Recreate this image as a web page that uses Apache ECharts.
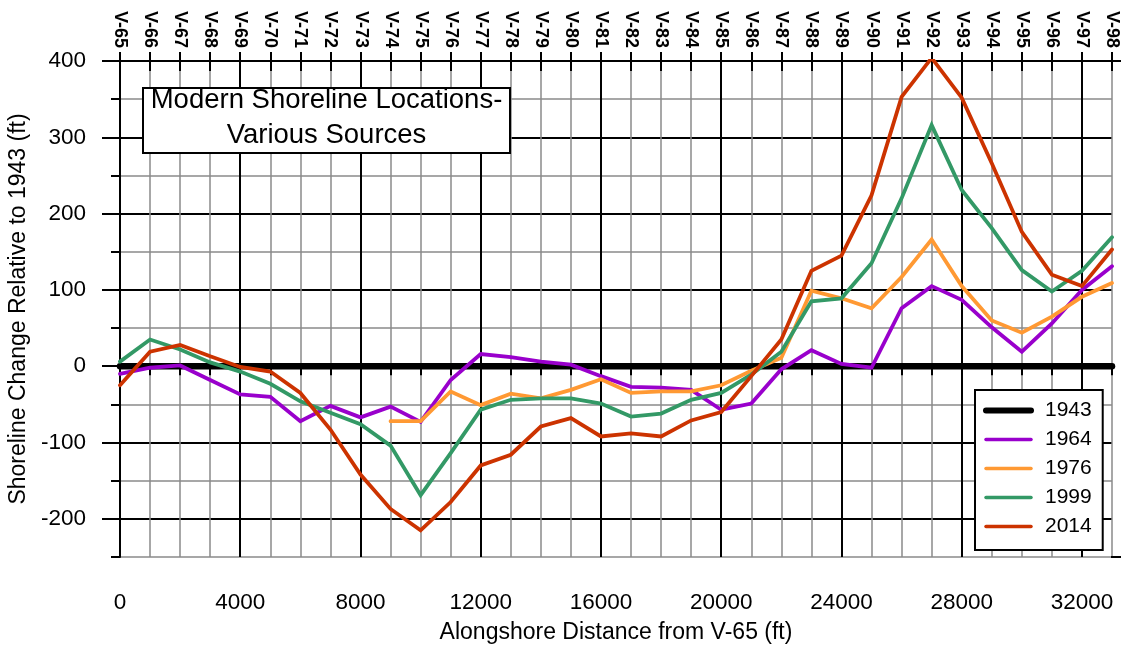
<!DOCTYPE html>
<html>
<head>
<meta charset="utf-8">
<script src="https://cdn.jsdelivr.net/npm/echarts@6/dist/echarts.min.js"></script>
<style>
  html, body { margin: 0; padding: 0; background: #fff; }
  #chart { width: 1121px; height: 647px; }
</style>
</head>
<body>
<div id="chart"></div>
<script>
// Survey stations along the shore and their alongshore distance from V-65 (ft)
const stations = ['V-65','V-66','V-67','V-68','V-69','V-70','V-71','V-72','V-73','V-74','V-75','V-76',
  'V-77','V-78','V-79','V-80','V-81','V-82','V-83','V-84','V-85','V-86','V-87','V-88','V-89','V-90',
  'V-91','V-92','V-93','V-94','V-95','V-96','V-97','V-98'];
const distance = [0,1000,2000,3000,4000,5000,6000,7000,8000,9000,10000,11000,12000,13000,14000,15000,
  16000,17000,18000,19000,20000,21000,22000,23000,24000,25000,26000,27000,28000,29000,30000,31000,32000,33000];

// Shoreline change relative to 1943 (ft)
const change1943 = [0,0,0,0,0,0,0,0,0,0,0,0,0,0,0,0,0,0,0,0,0,0,0,0,0,0,0,0,0,0,0,0,0,0];
const change1964 = [-10,-2,1,-18,-37,-40,-72,-52,-67,-53,-73,-18,16,12,6,2,-13,-27,-28,-31,-57,-49,-4,21,3,-2,76,105,87,51,19,56,100,131];
const change1976 = [null,null,null,null,null,null,null,null,null,-72,-72,-33,-51,-36,-42,-31,-17,-35,-33,-33,-25,-6,11,99,89,76,117,166,105,60,44,65,91,109];
const change1999 = [6,35,22,5,-7,-23,-46,-61,-76,-104,-169,-114,-57,-44,-42,-42,-49,-66,-62,-44,-35,-11,19,85,89,135,220,316,231,181,126,98,125,169];
const change2014 = [-25,19,28,13,-1,-7,-35,-83,-142,-187,-215,-178,-130,-116,-79,-68,-92,-88,-92,-71,-60,-13,35,125,145,224,353,404,352,266,176,120,105,153];

// Labelled tick positions
const xMajorTicks = [0,4000,8000,12000,16000,20000,24000,28000,32000];
const yMajorTicks = [-200,-100,0,100,200,300,400];

const FONT = '"Liberation Sans", Arial, Helvetica, sans-serif';

const pairs = vals => distance.map((d, i) => [d, vals[i]]);

const seriesDefs = [
  { name: '1943', values: change1943, color: '#000000', width: 6.5, legendWidth: 6, z: 2 },
  { name: '1964', values: change1964, color: '#9900CC', width: 3.8, legendWidth: 3.5, z: 3 },
  { name: '1976', values: change1976, color: '#FF9933', width: 3.8, legendWidth: 3.5, z: 3 },
  { name: '1999', values: change1999, color: '#339966', width: 3.8, legendWidth: 3.5, z: 3 },
  { name: '2014', values: change2014, color: '#CC3300', width: 3.8, legendWidth: 3.5, z: 3 }
];

const chart = echarts.init(document.getElementById('chart'), null, { renderer: 'canvas' });

const option = {
  animation: false,
  backgroundColor: '#fff',
  textStyle: { fontFamily: FONT, color: '#000' },
  grid: { left: 120, right: 9, top: 61, bottom: 90, containLabel: false, outerBoundsMode: 'none' },
  xAxis: [
    { // minor grid every 1000 ft
      type: 'value', min: 0, max: 33000, interval: 1000, position: 'bottom',
      axisLine: { show: true, lineStyle: { color: '#000', width: 2 } },
      axisTick: { show: true, length: 9, lineStyle: { color: '#000', width: 2 } },
      axisLabel: { show: false },
      splitLine: { show: true, lineStyle: { color: '#8a8a8a', width: 1.5 } }
    },
    { // major grid and labels every 4000 ft
      type: 'value', min: 0, max: 33000, interval: 1000, position: 'bottom',
      name: 'Alongshore Distance from V-65 (ft)', nameLocation: 'middle', nameGap: 64,
      nameTextStyle: { fontFamily: FONT, fontSize: 23, color: '#000' },
      axisLine: { show: false },
      axisTick: { show: true, length: 18, customValues: xMajorTicks, lineStyle: { color: '#000', width: 2 } },
      axisLabel: { show: true, customValues: xMajorTicks, margin: 34, fontFamily: FONT, fontSize: 22.5,
                   color: '#000', formatter: v => String(v) },
      splitLine: { show: true, lineStyle: { color: '#000', width: 2 } }
    },
    { // station names along the top
      type: 'value', min: 0, max: 33000, interval: 1000, position: 'top',
      axisLine: { show: true, lineStyle: { color: '#000', width: 2 } },
      axisTick: { show: true, length: 9, lineStyle: { color: '#000', width: 2 } },
      axisLabel: {
        show: true, rotate: 90, margin: 13, fontFamily: FONT, fontSize: 18, fontWeight: 'bold', color: '#000',
        formatter: v => stations[Math.round(v / 1000)] || ''
      },
      splitLine: { show: false }
    },
    { // inward half of the top ticks
      type: 'value', min: 0, max: 33000, interval: 1000, position: 'top',
      axisLine: { show: false },
      axisTick: { show: true, inside: true, length: 10, lineStyle: { color: '#000', width: 2 } },
      axisLabel: { show: false },
      splitLine: { show: false }
    }
  ],
  yAxis: [
    { // minor grid every 50 ft
      type: 'value', min: -250, max: 400, interval: 50, position: 'left',
      axisLine: { show: true, lineStyle: { color: '#000', width: 2 } },
      axisTick: { show: true, length: 9, lineStyle: { color: '#000', width: 2 } },
      axisLabel: { show: false },
      splitLine: { show: true, lineStyle: { color: '#8a8a8a', width: 1.5 } }
    },
    { // major grid and labels every 100 ft
      type: 'value', min: -250, max: 400, interval: 50, position: 'left',
      name: 'Shoreline Change Relative to 1943 (ft)', nameLocation: 'middle', nameGap: 88,
      nameTextStyle: { fontFamily: FONT, fontSize: 23, color: '#000' },
      axisLine: { show: false },
      axisTick: { show: true, length: 18, customValues: yMajorTicks, lineStyle: { color: '#000', width: 2 } },
      axisLabel: { show: true, customValues: yMajorTicks, margin: 34, fontFamily: FONT, fontSize: 22.5, color: '#000' },
      splitLine: { show: true, lineStyle: { color: '#000', width: 2 } }
    }
  ],
  legend: {
    orient: 'vertical', left: 975, top: 390,
    data: seriesDefs.map(s => ({
      name: s.name,
      lineStyle: { color: s.color, width: s.legendWidth, cap: 'round' }
    })),
    backgroundColor: '#fff', borderColor: '#000', borderWidth: 2, borderRadius: 0,
    padding: [10, 11, 13, 8], itemGap: 8, itemWidth: 45, itemHeight: 14,
    itemStyle: { opacity: 0 },
    textStyle: { fontFamily: FONT, fontSize: 21, color: '#000', padding: [0, 0, 0, 9] },
    selectedMode: false, z: 50
  },
  graphic: [
    { // caption box
      type: 'rect', x: 143, y: 88, z: 100,
      shape: { x: 0, y: 0, width: 367, height: 65 },
      style: { fill: '#fff', stroke: '#000', lineWidth: 2 }
    },
    {
      type: 'text', x: 326.5, y: 118, z: 101,
      style: { text: 'Modern Shoreline Locations-\nVarious Sources', fontFamily: FONT, fontSize: 27.5,
               lineHeight: 35, fill: '#000', align: 'center', verticalAlign: 'middle' }
    },
    { // top and bottom frame lines run on to the page edge
      type: 'line', z: 10, shape: { x1: 1111, y1: 61, x2: 1121, y2: 61 },
      style: { stroke: '#000', lineWidth: 2 }
    },
    {
      type: 'line', z: 10, shape: { x1: 1111, y1: 557, x2: 1121, y2: 557 },
      style: { stroke: '#000', lineWidth: 2 }
    }
  ],
  series: seriesDefs.map(s => ({
    name: s.name, type: 'line', xAxisIndex: 0, yAxisIndex: 0,
    data: pairs(s.values), symbol: 'none', showSymbol: false, connectNulls: false, z: s.z,
    lineStyle: { color: s.color, width: s.width, cap: 'round', join: 'miter' },
    itemStyle: { color: s.color }
  }))
};

chart.setOption(option);
</script>
</body>
</html>
